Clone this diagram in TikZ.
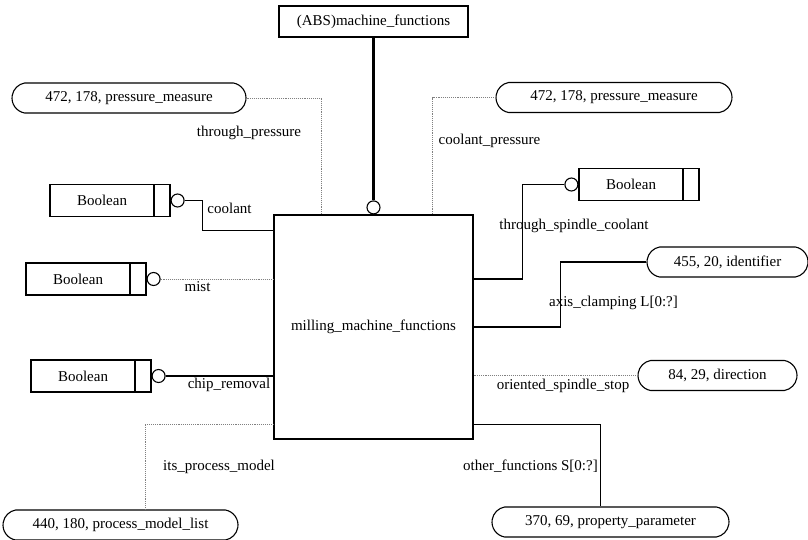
\documentclass[tikz,border=0pt]{standalone}
\usepackage{fontspec}
\setmainfont{Liberation Serif}
\usepackage{tikz}
\usetikzlibrary{positioning,shapes.misc,calc}

\begin{document}
\begin{tikzpicture}[
    x=1pt, y=-1pt,
    font=\fontsize{15}{18}\selectfont,
    every node/.style={font=\fontsize{15}{18}\selectfont},
    entbox/.style={draw, line width=1.1pt, inner sep=0pt},
    typebox/.style={draw, line width=1.1pt, minimum width=120, minimum height=32, inner sep=0pt,
        path picture={\draw[line width=1.1pt]
            ([xshift=-16]path picture bounding box.north east) --
            ([xshift=-16]path picture bounding box.south east);}},
    pill/.style={draw, line width=1.1pt, rounded rectangle, rounded rectangle arc length=160,
        minimum height=30, inner sep=0pt},
    ring/.style={draw, circle, line width=1.1pt, minimum size=13, inner sep=0pt, fill=white},
    rel/.style={line width=1.1pt},
    optrel/.style={line width=0.9pt, gray, densely dotted},
    super/.style={line width=3pt},
    lbl/.style={inner sep=0pt, text height=10pt, text depth=3.5pt}
]
\useasboundingbox (0,0) rectangle (808,539);

%------------------------------------------------
% Entidades
%------------------------------------------------
\node[entbox,minimum width=189,minimum height=31] (absmf) at (373.5,21.5) {(ABS)machine\_functions};
\node[entbox,minimum width=199,minimum height=224] (mmf) at (373.5,327) {milling\_machine\_functions};
\node[ring,above=0pt of mmf] (mmf-o) {};

%------------------------------------------------
% Tipos definidos
%------------------------------------------------
\foreach \nome/\x/\y/\w/\txt in {
pmL/129/98/234/{472, 178, pressure\_measure},
pmR/614/97.5/236/{472, 178, pressure\_measure},
ident/727.5/262/161/{455, 20, identifier},
dir/717.5/375.5/159/{84, 29, direction},
pml/120.5/525/235/{440, 180, process\_model\_list},
pp/610.5/522/237/{370, 69, property\_parameter}}
{
    \node[pill,minimum width=\w] (\nome) at (\x,\y) {\txt};
}

% Boolean
\foreach \nome/\x/\y in {
tcool/110/200.5,
tmist/86/279,
tchip/91/376}
{
    \node[typebox] (\nome) at (\x,\y) {Boolean\kern16pt};
    \node[ring,right=0pt of \nome] (\nome-o) {};
}
\node[typebox] (tspin) at (639,184.5) {Boolean\kern16pt};
\node[ring,left=0pt of tspin] (tspin-o) {};

%------------------------------------------------
% Relacoes
%------------------------------------------------
\draw[super] (absmf.south) -- (mmf-o.north);

\draw[optrel] (pmL.east) -| ([xshift=48]mmf.north west);
\draw[optrel] (pmR.west) -| ([xshift=-41]mmf.north east);

\draw[rel] (tcool-o.east) -- ++(18,0) |- ([yshift=-16]mmf.north west);
\draw[optrel] (tmist-o.east) -- (tmist-o.east -| mmf.west);
\draw[rel] (tchip-o.east) -- (tchip-o.east -| mmf.west);
\draw[optrel] ([yshift=15]mmf.south west) -| ([xshift=24.5]pml.north);

\draw[rel] (tspin-o.west) -- ++(-42,0) |- ([yshift=48]mmf.east);
\draw[rel] (ident.west) -- ++(-86,0) |- (mmf.east);
\draw[optrel] (dir.west) -- (dir.west -| mmf.east);
\draw[rel] ([yshift=15]mmf.south east) -| ([xshift=-10]pp.north);

%------------------------------------------------
% Rotulos
%------------------------------------------------
\node[lbl] (l-tp) at (249,133) {through\_pressure};
\node[lbl] (l-cp) at (489.5,141) {coolant\_pressure};
\node[lbl] (l-co) at (229.5,210) {coolant};
\node[lbl] (l-mi) at (197.5,288) {mist};
\node[lbl] (l-cr) at (229,385) {chip\_removal};
\node[lbl] (l-pm) at (219,467) {its\_process\_model};
\node[lbl] (l-ts) at (574,226) {through\_spindle\_coolant};
\node[lbl] (l-ac) at (613.5,303) {axis\_clamping L[0:?]};
\node[lbl] (l-os) at (563,386) {oriented\_spindle\_stop};
\node[lbl] (l-of) at (530.5,467) {other\_functions S[0:?]};

\end{tikzpicture}
\end{document}
